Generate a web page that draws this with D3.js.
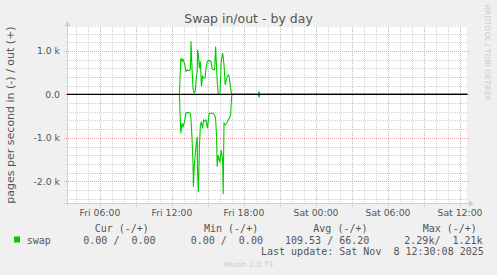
<!DOCTYPE html>
<html>
<head>
<meta charset="utf-8">
<script src="https://cdn.jsdelivr.net/npm/d3@7"></script>
<style>
  html, body { margin: 0; padding: 0; background: #f0f0f0; }
  svg { display: block; }
  text { font-family: "DejaVu Sans", sans-serif; }
  .mono { font-family: "DejaVu Sans Mono", monospace; white-space: pre; }
</style>
</head>
<body>
<svg id="chart" width="497" height="275"></svg>
<script>
// ---- data (minutes after Fri 12:00, pages/s) ----
const sampleMinutes = [30, 37, 44, 50, 55, 62, 70, 77, 85, 92, 95, 100, 105, 107, 111, 116, 122, 126, 128, 132,
  137, 142, 147, 153, 158, 165, 170, 177, 186, 195, 200, 206, 213, 218, 223, 226, 231, 236, 240, 246,
  253, 256, 260, 266, 273, 281, 286, 293, 298, 301, 430, 435, 440, 715, 720, 725, 1480];
const swapOut = [null, 0, 835, 760, 810, 720, 530, 565, 540, 565, 1220, 600, 145, 80, 30, 70, 400, 530, 1025, 910,
  600, 760, 185, 415, 375, 375, 600, 760, 780, 760, 600, 565, 565, 1100, 600, 300, 0, 0, 0, 760,
  950, 850, 680, 220, 375, 450, 415, 145, 0, 0, 0, 60, 0, 0, 15, 0, 0];
const swapIn = [null, 0, 895, 665, 745, 640, 425, 420, 420, 435, 590, 1000, 1585, 2125, 1665, 1400, 1100, 975, 1800, 2250,
  1200, 705, 630, 785, 590, 620, 590, 780, 435, 435, 435, 435, 480, 550, 1000, 1665, 1400, 1510, 1550, 1280,
  1500, 2300, 665, 700, 665, 590, 560, 475, 55, 0, 0, 60, 0, 0, 0, 0, 0];

const yTickValues = [-2000, -1000, 0, 1000];
const yTickLabels = ["-2.0 k", "-1.0 k", "0.0", "1.0 k"];
const xTickTimes = ["2025-11-07T06:00:00Z", "2025-11-07T12:00:00Z", "2025-11-07T18:00:00Z",
  "2025-11-08T00:00:00Z", "2025-11-08T06:00:00Z", "2025-11-08T12:00:00Z"];
const xTickLabels = ["Fri 06:00", "Fri 12:00", "Fri 18:00", "Sat 00:00", "Sat 06:00", "Sat 12:00"];

const seriesName = "swap";
const legendHeaders = ["Cur (-/+)", "Min (-/+)", "Avg (-/+)", "Max (-/+)"];
const legendValues = ["0.00 /  0.00", "0.00 /  0.00", "109.53 / 66.20", "2.29k/  1.21k"];
const lastUpdate = "Last update: Sat Nov  8 12:30:08 2025";
const title = "Swap in/out - by day";
const yLabel = "pages per second in (-) / out (+)";

// ---- layout ----
const svg = d3.select("#chart");
const pLeft = 67, pRight = 467, pTop = 27, pBottom = 203;
const base = Date.UTC(2025, 10, 7, 12, 0);

const x = d3.scaleUtc()
  .domain([new Date(Date.UTC(2025, 10, 7, 3, 20)), new Date(Date.UTC(2025, 10, 8, 12, 40))])
  .range([68, 468]);
const y = d3.scaleLinear().domain([-2500, 1550]).range([pBottom, pTop]);

svg.append("rect").attr("x", pLeft).attr("y", pTop)
  .attr("width", pRight - pLeft).attr("height", pBottom - pTop).attr("fill", "#ffffff");

// grid
const grid = svg.append("g").attr("shape-rendering", "crispEdges");
const hours = d3.utcHour.range(x.domain()[0], x.domain()[1]);
grid.selectAll("line.vmin").data(hours.filter(d => d.getUTCHours() % 3 != 0))
  .join("line").attr("class", "vmin")
  .attr("x1", d => Math.round(x(d)) + 0.5).attr("x2", d => Math.round(x(d)) + 0.5)
  .attr("y1", pTop).attr("y2", pBottom + 2)
  .attr("stroke", "#d2d2d2").attr("stroke-dasharray", "1,1");
grid.selectAll("line.hmin").data(d3.range(-2400, 1550, 200).filter(v => v % 1000 != 0))
  .join("line").attr("class", "hmin")
  .attr("y1", d => Math.round(y(d)) + 0.5).attr("y2", d => Math.round(y(d)) + 0.5)
  .attr("x1", pLeft - 2).attr("x2", pRight + 2)
  .attr("stroke", "#d2d2d2").attr("stroke-dasharray", "1,1");
grid.selectAll("line.vmaj").data(hours.filter(d => d.getUTCHours() % 3 == 0))
  .join("line").attr("class", "vmaj")
  .attr("x1", d => Math.round(x(d)) + 0.5).attr("x2", d => Math.round(x(d)) + 0.5)
  .attr("y1", pTop).attr("y2", pBottom + 3)
  .attr("stroke", "#e8a8a8").attr("stroke-dasharray", "1,1");
grid.selectAll("line.hmaj").data(yTickValues)
  .join("line").attr("class", "hmaj")
  .attr("y1", d => Math.round(y(d)) + 0.5).attr("y2", d => Math.round(y(d)) + 0.5)
  .attr("x1", pLeft - 3).attr("x2", pRight + 2)
  .attr("stroke", "#e8a8a8").attr("stroke-dasharray", "1,1");

// axes lines + arrows
svg.append("line").attr("x1", pLeft + 0.5).attr("x2", pLeft + 0.5).attr("y1", pTop - 2).attr("y2", pBottom + 3)
  .attr("stroke", "#c8ccf4");
svg.append("line").attr("x1", pLeft - 3).attr("x2", pRight + 3).attr("y1", pBottom + 0.5).attr("y2", pBottom + 0.5)
  .attr("stroke", "#c8ccf4");
svg.append("path").attr("d", `M${pLeft - 2.5},${pTop - 1} L${pLeft + 3.5},${pTop - 1} L${pLeft + 0.5},${pTop - 6} Z`)
  .attr("fill", "#c4c8fc");
svg.append("path").attr("d", `M${pRight + 2},${pBottom - 2.5} L${pRight + 2},${pBottom + 3.5} L${pRight + 7},${pBottom + 0.5} Z`)
  .attr("fill", "#c4c8fc");

// series
const t = m => new Date(base + m * 60000);
const pts = sampleMinutes.map((m, i) => ({ t: t(m), out: swapOut[i], inn: swapIn[i] }));
const lineOut = d3.line().defined(d => d.out != null).x(d => x(d.t)).y(d => y(d.out));
const lineIn = d3.line().defined(d => d.inn != null).x(d => x(d.t)).y(d => y(-d.inn));
svg.append("path").datum(pts).attr("d", lineIn)
  .attr("fill", "none").attr("stroke", "#00cc00").attr("stroke-width", 1.1);
svg.append("path").datum(pts).attr("d", lineOut)
  .attr("fill", "none").attr("stroke", "#00cc00").attr("stroke-width", 1.1);

// zero line
svg.append("line").attr("x1", pLeft).attr("x2", pRight).attr("y1", y(0)).attr("y2", y(0))
  .attr("stroke", "#000").attr("stroke-width", 1.3);

// tick labels
svg.selectAll("text.ylab").data(yTickValues).join("text").attr("class", "ylab")
  .attr("x", 60).attr("y", d => y(d) + 3.3).attr("text-anchor", "end")
  .attr("font-size", 9.3).attr("fill", "#555")
  .text((d, i) => yTickLabels[i]);
svg.selectAll("text.xlab").data(xTickTimes).join("text").attr("class", "xlab")
  .attr("x", d => x(new Date(d))).attr("y", 216).attr("text-anchor", "middle")
  .attr("font-size", 9.3).attr("fill", "#555")
  .text((d, i) => xTickLabels[i]);

// title, labels
svg.append("text").attr("x", 248.5).attr("y", 23).attr("text-anchor", "middle")
  .attr("font-size", 12.5).attr("fill", "#555").text(title);
svg.append("text").attr("transform", "translate(13.5,115) rotate(-90)").attr("text-anchor", "middle")
  .attr("font-size", 11).attr("fill", "#555").text(yLabel);
svg.append("text").attr("transform", "translate(484.5,53) rotate(90)").attr("text-anchor", "middle")
  .attr("font-size", 7.5).attr("fill", "#cccccc").text("RRDTOOL / TOBI OETIKER");

// legend
const headerX = [94.7, 204, 313.3, 422.7];
const valueX = [83.3, 190.7, 285, 404.3];
svg.append("rect").attr("x", 14).attr("y", 236.5).attr("width", 6).attr("height", 6).attr("fill", "#00cc00");
svg.append("text").attr("class", "mono").attr("x", 26.7).attr("y", 243.5)
  .attr("font-size", 10).attr("fill", "#555").text(seriesName);
svg.selectAll("text.lh").data(legendHeaders).join("text").attr("class", "lh mono")
  .attr("x", (d, i) => headerX[i]).attr("y", 231.5)
  .attr("font-size", 10).attr("fill", "#555").text(d => d);
svg.selectAll("text.lv").data(legendValues).join("text").attr("class", "lv mono")
  .attr("x", (d, i) => valueX[i]).attr("y", 243.5)
  .attr("font-size", 10).attr("fill", "#555").text(d => d);
svg.append("text").attr("class", "mono").attr("x", 261).attr("y", 254.5)
  .attr("font-size", 10).attr("fill", "#555").text(lastUpdate);
svg.append("text").attr("x", 248.5).attr("y", 267).attr("text-anchor", "middle")
  .attr("font-size", 7.5).attr("fill", "#cccccc").text("Munin 2.0.73");
</script>
</body>
</html>
